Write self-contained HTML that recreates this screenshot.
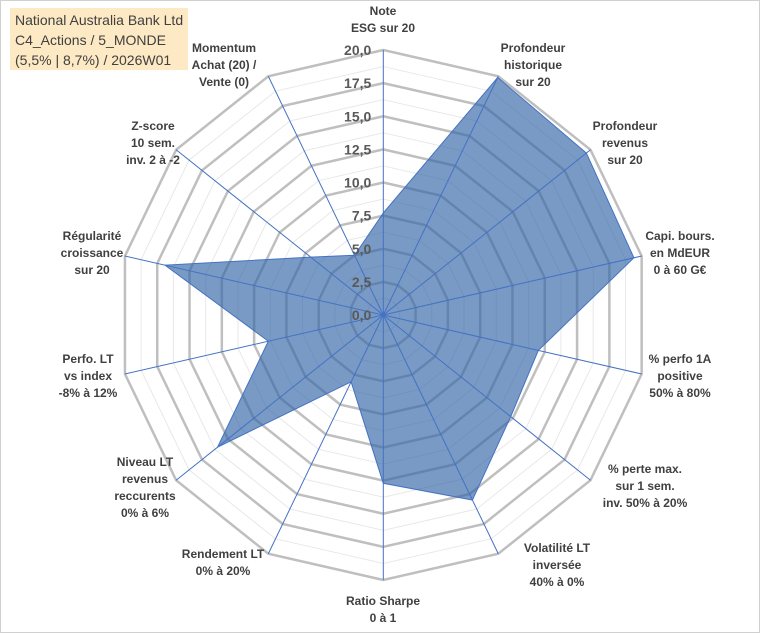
<!DOCTYPE html>
<html><head><meta charset="utf-8">
<style>
body{margin:0;background:#fff;}
#wrap{position:relative;width:760px;height:633px;overflow:hidden;font-family:"Liberation Sans",sans-serif;}
#frame{position:absolute;left:0;top:0;width:758px;height:631px;border:1px solid #d0d0d0;}
#title{position:absolute;left:10px;top:8px;width:178px;height:62px;background:#fde9c4;font-size:14px;line-height:20px;color:#404040;padding:2px 0 0 5px;box-sizing:border-box;white-space:nowrap;}
.lab{position:absolute;transform:translateX(-50%);text-align:center;font-weight:bold;font-size:12px;line-height:17px;color:#404040;white-space:nowrap;}
svg{position:absolute;left:0;top:0;}
</style></head><body>
<div id="wrap">
<div id="frame"></div>
<div id="title">National Australia Bank Ltd<br>C4_Actions / 5_MONDE<br>(5,5% | 8,7%) / 2026W01</div>
<svg id="chart" width="760" height="633"></svg>
<div class="lab" style="left:383px;top:3px">Note<br>ESG sur 20</div>
<div class="lab" style="left:533px;top:40px">Profondeur<br>historique<br>sur 20</div>
<div class="lab" style="left:625px;top:118px">Profondeur<br>revenus<br>sur 20</div>
<div class="lab" style="left:680px;top:228px">Capi. bours.<br>en MdEUR<br>0 à 60 G€</div>
<div class="lab" style="left:680px;top:351px">% perfo 1A<br>positive<br>50% à 80%</div>
<div class="lab" style="left:645px;top:461px">% perte max.<br>sur 1 sem.<br>inv. 50% à 20%</div>
<div class="lab" style="left:557px;top:540px">Volatilité LT<br>inversée<br>40% à 0%</div>
<div class="lab" style="left:383px;top:593px">Ratio Sharpe<br>0 à 1</div>
<div class="lab" style="left:223px;top:546px">Rendement LT<br>0% à 20%</div>
<div class="lab" style="left:145px;top:454px">Niveau LT<br>revenus<br>reccurents<br>0% à 6%</div>
<div class="lab" style="left:88px;top:351px">Perfo. LT<br>vs index<br>-8% à 12%</div>
<div class="lab" style="left:92px;top:228px">Régularité<br>croissance<br>sur 20</div>
<div class="lab" style="left:153px;top:118px">Z-score<br>10 sem.<br>inv. 2 à -2</div>
<div class="lab" style="left:224px;top:40px">Momentum<br>Achat (20) /<br>Vente (0)</div>
</div>
<script>
const categories=["ESG","Profondeur historique","Profondeur revenus","Capi","Perfo 1A","Perte max","Volatilite","Sharpe","Rendement","Niveau LT","Perfo LT","Regularite","Z-score","Momentum"];
const values=[7.7,19.9,19.6,19.4,12.0,12.3,15.5,12.7,5.6,16.0,8.9,16.9,7.0,5.0];
const ticks=[0,2.5,5,7.5,10,12.5,15,17.5,20];
const tickLabels=["0,0","2,5","5,0","7,5","10,0","12,5","15,0","17,5","20,0"];
const NS="http://www.w3.org/2000/svg";
const svg=document.getElementById('chart');
const cx=383.3,cy=315,R=265,maxV=20,N=categories.length;
function rScale(v){return v/maxV*R;}
function pt(i,v){const a=i*2*Math.PI/N;const r=rScale(v);return [cx+r*Math.sin(a),cy-r*Math.cos(a)];}
function mk(tag,attrs){const e=document.createElementNS(NS,tag);for(const k in attrs)e.setAttribute(k,attrs[k]);svg.appendChild(e);return e;}
// minor grid
for(let t=0;t<ticks.length-1;t++){
  const v=(ticks[t]+ticks[t+1])/2;
  const p=categories.map((c,i)=>pt(i,v).join(',')).join(' ');
  const g=mk('polygon',{points:p,fill:'none',stroke:'#e8e8e8','stroke-width':1});
  
  
}
ticks.forEach((v,k)=>{
  if(v===0)return;
  const p=categories.map((c,i)=>pt(i,v).join(',')).join(' ');
  const g=mk('polygon',{points:p,fill:'none',stroke:'#bfbfbf','stroke-width':2.5});
  
  
});
// series
const sp=values.map((v,i)=>pt(i,v).join(',')).join(' ');
const s=mk('polygon',{points:sp,fill:'#2f64a6','fill-opacity':0.65,stroke:'#4472c4','stroke-width':1});


// spokes
categories.forEach((c,i)=>{
  const [x,y]=pt(i,maxV);
  const l=mk('line',{x1:cx,y1:cy,x2:x,y2:y,stroke:'#4472c4','stroke-width':1});
  
  
});
mk('circle',{cx:cx,cy:cy,r:2.5,fill:'#4472c4'});
// tick labels
ticks.forEach((v,k)=>{
  const t=mk('text',{x:cx-12,y:cy-rScale(v)+5,'text-anchor':'end','font-family':'Liberation Sans, sans-serif','font-weight':'bold','font-size':14,fill:'#595959'});
  t.textContent=tickLabels[k];
  
  
});
</script>
</body></html>
